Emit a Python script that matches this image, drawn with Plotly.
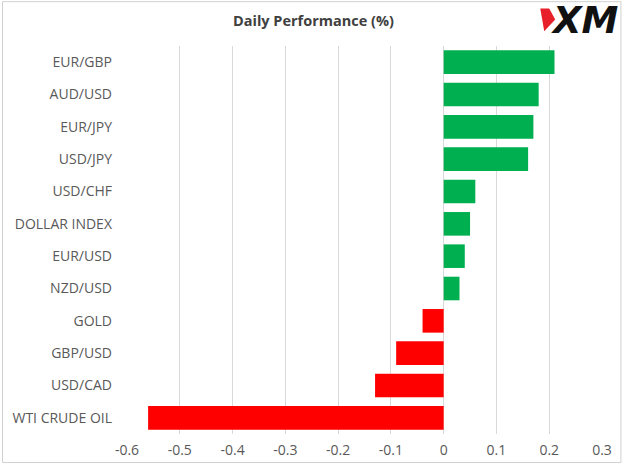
import plotly.graph_objects as go

# data, top to bottom as in the chart
pairs = ["EUR/GBP", "AUD/USD", "EUR/JPY", "USD/JPY", "USD/CHF", "DOLLAR INDEX",
         "EUR/USD", "NZD/USD", "GOLD", "GBP/USD", "USD/CAD", "WTI CRUDE OIL"]
changes = [0.21, 0.18, 0.17, 0.16, 0.06, 0.05, 0.04, 0.03, -0.04, -0.09, -0.13, -0.56]
x_ticks = [-0.6, -0.5, -0.4, -0.3, -0.2, -0.1, 0, 0.1, 0.2, 0.3]
x_tick_text = ["-0.6", "-0.5", "-0.4", "-0.3", "-0.2", "-0.1", "0", "0.1", "0.2", "0.3"]

W, H = 624, 471
L, R, T, B = 126, 21, 46, 31
pw, ph = W - L - R, H - T - B


def px(x):
    return (x - L) / pw


def py(y):
    return (H - B - y) / ph


colors = ["#00B050" if v >= 0 else "#FF0000" for v in changes]

fig = go.Figure()
fig.add_trace(go.Bar(
    y=pairs, x=changes, orientation="h",
    marker=dict(color=colors, line=dict(width=0)),
    width=0.73,
))

shapes = [
    # outer border
    dict(type="rect", xref="paper", yref="paper",
         x0=px(1), x1=px(W - 2), y0=py(H - 2), y1=py(1),
         line=dict(color="#D0D0D0", width=1), layer="below"),
    # red wedge of the logo
    dict(type="path", xref="paper", yref="paper",
         path=f"M {px(541)},{py(8)} L {px(550)},{py(8)} L {px(556)},{py(19)} L {px(545)},{py(31)} Z",
         fillcolor="#E8202A", line=dict(width=0)),
]

fig.update_layout(
    width=W, height=H,
    margin=dict(l=L, r=R, t=T, b=B),
    paper_bgcolor="white", plot_bgcolor="white",
    showlegend=False,
    font=dict(family="Open Sans, DejaVu Sans, sans-serif", color="#595959", size=14),
    xaxis=dict(range=[-0.6, 0.3], tickvals=x_ticks, ticktext=x_tick_text,
               showgrid=True, gridcolor="#D9D9D9", gridwidth=1,
               zeroline=False, showline=False, ticks="", ticklabelstandoff=6),
    yaxis=dict(autorange="reversed", showgrid=False, zeroline=False,
               showline=False, ticks="", ticklabelstandoff=14),
    bargap=0.27,
    shapes=shapes,
    annotations=[
        dict(text="<b>Daily Performance (%)</b>", xref="paper", yref="paper",
             x=px(313), y=py(20), xanchor="center", yanchor="middle", showarrow=False,
             font=dict(size=14.5, color="#404040")),
        dict(text="<b><i>XM</i></b>", xref="paper", yref="paper",
             x=px(586), y=py(20), xanchor="center", yanchor="middle", showarrow=False,
             font=dict(family="DejaVu Sans, sans-serif", size=37, color="#111111")),
    ],
)

fig.write_html("out.html", config={"displayModeBar": False},
               post_script="document.body.style.margin='0';")
